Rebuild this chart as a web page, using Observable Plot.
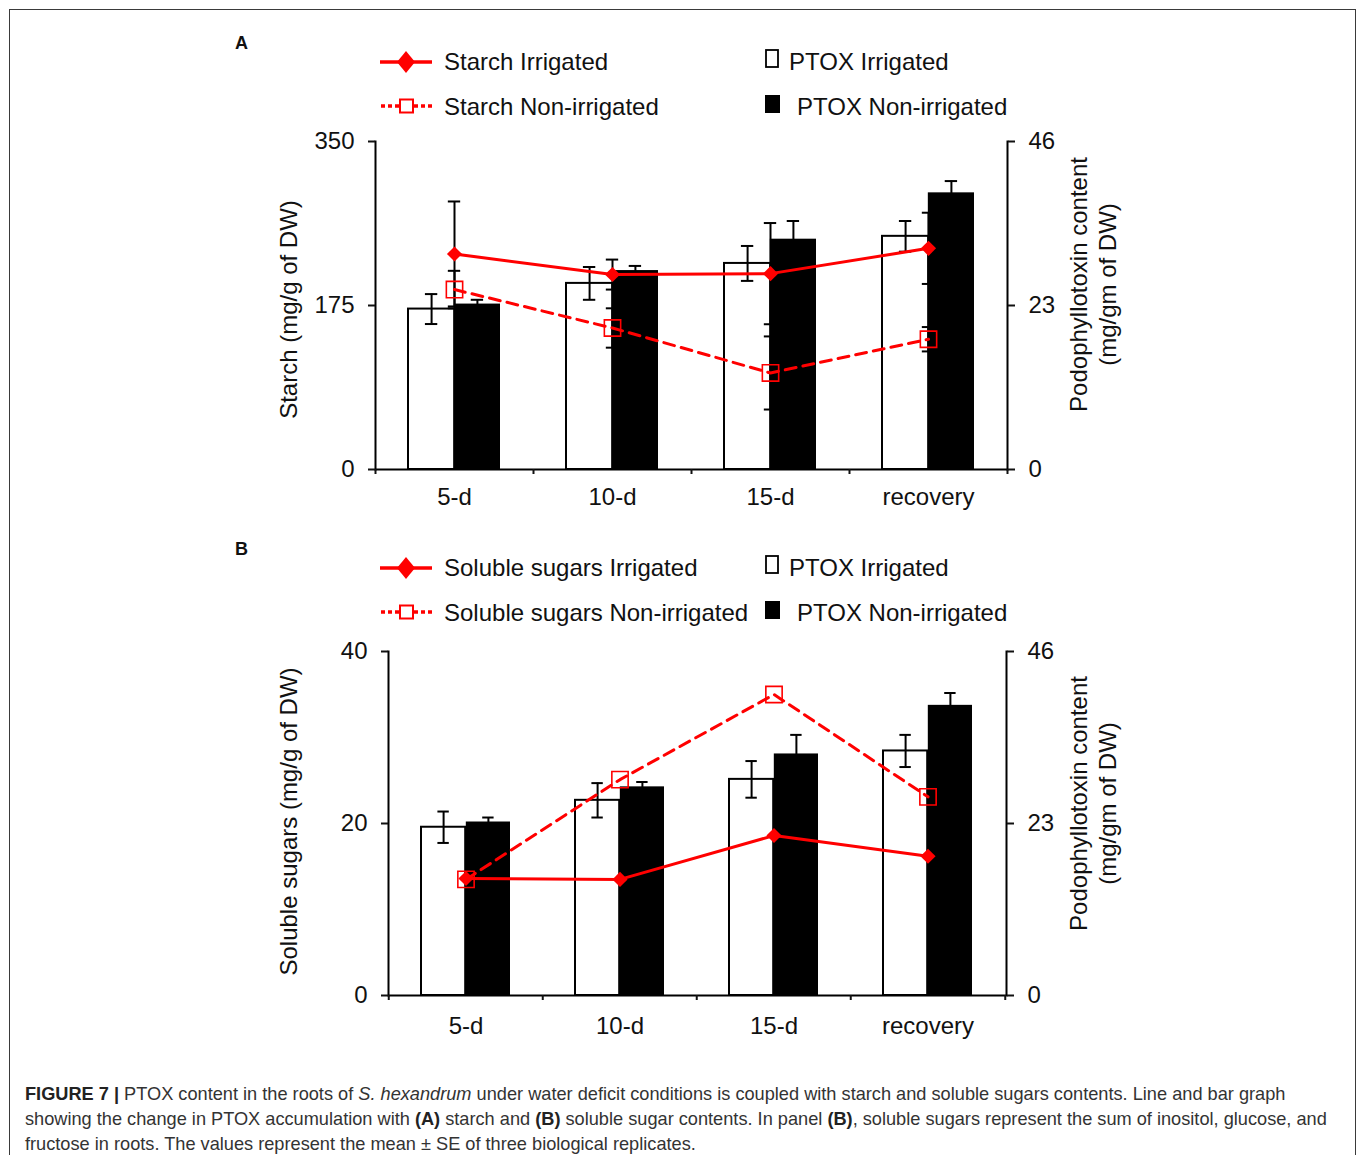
<!DOCTYPE html>
<html>
<head>
<meta charset="utf-8">
<script src="https://cdn.jsdelivr.net/npm/d3@7"></script>
<script src="https://cdn.jsdelivr.net/npm/@observablehq/plot@0.6"></script>
<style>
  body { margin: 0; background: #fff; }
  #fig { position: relative; width: 1358px; height: 1155px; overflow: hidden; font-family: "Liberation Sans", Arial, sans-serif; background: #fff; }
  #border { position: absolute; left: 9px; top: 9px; width: 1347px; height: 1200px; border: 1.5px solid #3a3a3a; box-sizing: border-box; }
  .panel { position: absolute; left: 0; }
  #overlay { position: absolute; left: 0; top: 0; }
  #caption { position: absolute; left: 25px; top: 1082px; font-size: 18.2px; line-height: 25px; color: #333; white-space: nowrap; }
  #caption b { color: #222; }
</style>
</head>
<body>
<div id="fig">
  <div id="border"></div>
  <div id="panelA" class="panel" style="top:120px"></div>
  <div id="panelB" class="panel" style="top:630px"></div>
  <svg id="overlay" width="1358" height="1155"></svg>
  <div id="caption"><b>FIGURE 7 |</b> PTOX content in the roots of <i>S. hexandrum</i> under water deficit conditions is coupled with starch and soluble sugars contents. Line and bar graph<br>showing the change in PTOX accumulation with <b>(A)</b> starch and <b>(B)</b> soluble sugar contents. In panel <b>(B)</b>, soluble sugars represent the sum of inositol, glucose, and<br>fructose in roots. The values represent the mean ± SE of three biological replicates.</div>
</div>
<script>
// ---------- data ----------
const categories = ["5-d", "10-d", "15-d", "recovery"];

// PTOX content (mg/gm of DW), right axis 0–46
const ptoxIrrigated = [22.5, 26.1, 28.9, 32.7];
const ptoxIrrigatedSE = [2.1, 2.3, 2.45, 2.15];
const ptoxNonIrrigated = [23.2, 27.9, 32.3, 38.8];
const ptoxNonIrrigatedSE = [0.6, 0.65, 2.55, 1.65];
const ptoxTicks = [0, 23, 46];

// Starch (mg/g of DW), panel A left axis
const starchIrrigated = [230, 208, 209, 236];
const starchIrrigatedSE = [56, 16, 54, 38];
const starchNonIrrigated = [192, 151, 103, 139];
const starchNonIrrigatedSE = [20, 21, 39, 13];
const starchTicks = [0, 175, 350];

// Soluble sugars (mg/g of DW), panel B left axis
const sugarsIrrigated = [13.6, 13.5, 18.6, 16.2];
const sugarsNonIrrigated = [13.5, 25.1, 35.0, 23.1];
const sugarTicks = [0, 20, 40];

const RED = "#ff0000";
const FONT = "'Liberation Sans', Arial, sans-serif";
const FS = 24;

function makePanel(o) {
  const n = categories.length;
  const innerW = o.width - o.marginLeft - o.marginRight;
  const step = innerW / n;
  const paddingInner = 0.42;
  const bw = step * (1 - paddingInner);
  const leftMax = o.leftTicks[o.leftTicks.length - 1];
  const ptoxMax = ptoxTicks[ptoxTicks.length - 1];
  const k = leftMax / ptoxMax;
  const cap = 6;

  const rows = categories.map((c, i) => ({
    cat: c,
    pI: ptoxIrrigated[i] * k,
    pIse: ptoxIrrigatedSE[i] * k,
    pN: ptoxNonIrrigated[i] * k,
    pNse: ptoxNonIrrigatedSE[i] * k,
    lI: o.lineIrr[i],
    lIse: o.lineIrrSE ? o.lineIrrSE[i] : 0,
    lN: o.lineNon[i],
    lNse: o.lineNonSE ? o.lineNonSE[i] : 0
  }));

  const errMarks = (yKey, seKey, dx, insL, insR) => [
    Plot.ruleX(rows, {x: "cat", y1: d => d[yKey] - d[seKey], y2: d => d[yKey] + d[seKey], dx, stroke: "black", strokeWidth: 2}),
    Plot.tickY(rows, {x: "cat", y: d => d[yKey] + d[seKey], insetLeft: insL, insetRight: insR, stroke: "black", strokeWidth: 2}),
    Plot.tickY(rows, {x: "cat", y: d => d[yKey] - d[seKey], insetLeft: insL, insetRight: insR, stroke: "black", strokeWidth: 2})
  ];

  const marks = [
    Plot.barY(rows, {x: "cat", y: "pI", fill: "white", stroke: "black", strokeWidth: 2, insetRight: bw / 2}),
    Plot.barY(rows, {x: "cat", y: "pN", fill: "black", insetLeft: bw / 2}),
    ...errMarks("pI", "pIse", -bw / 4, bw / 4 - cap, 3 * bw / 4 - cap),
    ...errMarks("pN", "pNse", bw / 4, 3 * bw / 4 - cap, bw / 4 - cap),
  ];
  if (o.lineIrrSE) marks.push(...errMarks("lI", "lIse", 0, bw / 2 - cap, bw / 2 - cap));
  if (o.lineNonSE) marks.push(...errMarks("lN", "lNse", 0, bw / 2 - cap, bw / 2 - cap));

  marks.push(
    Plot.lineY(rows, {x: "cat", y: "lN", stroke: RED, strokeWidth: 3, strokeDasharray: "11,7"}),
    Plot.dot(rows, {x: "cat", y: "lN", symbol: "square", r: 9.2, stroke: RED, strokeWidth: 1.6, fill: "none"}),
    Plot.lineY(rows, {x: "cat", y: "lI", stroke: RED, strokeWidth: 3}),
    Plot.dot(rows, {x: "cat", y: "lI", symbol: "diamond2", r: 6.8, fill: RED, stroke: "none"}),
    Plot.ruleY([0], {stroke: "black", strokeWidth: 2}),
    Plot.frame({anchor: "left", stroke: "black", strokeWidth: 2}),
    Plot.frame({anchor: "right", stroke: "black", strokeWidth: 2}),
    Plot.axisY({ticks: o.leftTicks, tickSize: 7, tickPadding: 14, strokeWidth: 2, label: null, tickFormat: d => d}),
    Plot.axisY({anchor: "right", ticks: o.leftTicks, tickSize: 7, tickPadding: 14, strokeWidth: 2, label: null,
                tickFormat: d => Math.round(d / k)}),
    Plot.axisX({tickSize: 5, strokeWidth: 2, tickFormat: () => "", dx: -step / 2, label: null}),
    Plot.axisX({ticks: [categories[n - 1]], tickSize: 5, strokeWidth: 2, tickFormat: () => "", dx: step / 2, label: null}),
    Plot.axisX({tickSize: 0, tickPadding: o.labelPad, label: null}),
    Plot.text([o.leftTitle], {text: d => d, frameAnchor: "left", textAnchor: "middle", dx: o.leftTitleDx, dy: o.leftTitleDy, rotate: -90, fontSize: FS}),
    Plot.text(["Podophyllotoxin content\n(mg/gm of DW)"], {text: d => d, frameAnchor: "right", textAnchor: "middle", lineAnchor: "middle", dx: o.rightTitleDx, dy: o.rightTitleDy, rotate: -90, fontSize: FS, lineHeight: 1.17})
  );

  return Plot.plot({
    width: o.width,
    height: o.height,
    marginLeft: o.marginLeft,
    marginRight: o.marginRight,
    marginTop: o.marginTop,
    marginBottom: o.marginBottom,
    style: {fontFamily: FONT, fontSize: FS + "px", color: "#111", background: "transparent", overflow: "visible"},
    x: {type: "band", domain: categories, paddingInner, paddingOuter: paddingInner / 2},
    y: {domain: [0, leftMax]},
    marks
  });
}

const svgA = makePanel({
  width: 1358, height: 409, marginLeft: 375, marginRight: 351, marginTop: 21, marginBottom: 60,
  leftTicks: starchTicks,
  lineIrr: starchIrrigated, lineIrrSE: starchIrrigatedSE,
  lineNon: starchNonIrrigated, lineNonSE: starchNonIrrigatedSE,
  leftTitle: "Starch (mg/g of DW)", leftTitleDx: -86, leftTitleDy: 4,
  rightTitleDx: 85, rightTitleDy: -21, labelPad: 18.5
});
document.getElementById("panelA").appendChild(svgA);

const svgB = makePanel({
  width: 1358, height: 425, marginLeft: 388, marginRight: 352, marginTop: 21, marginBottom: 60,
  leftTicks: sugarTicks,
  lineIrr: sugarsIrrigated, lineIrrSE: null,
  lineNon: sugarsNonIrrigated, lineNonSE: null,
  leftTitle: "Soluble sugars (mg/g of DW)", leftTitleDx: -99, leftTitleDy: -2,
  rightTitleDx: 86, rightTitleDy: -20, labelPad: 21.5
});
document.getElementById("panelB").appendChild(svgB);

// ---------- legends & panel labels ----------
const ov = d3.select("#overlay").style("font-family", FONT);
function legend(r1, label, lineName) {
  const g = ov.append("g");
  g.append("text").attr("x", 235).attr("y", r1 - 12).attr("font-size", 18).attr("font-weight", "bold").attr("fill", "#111").text(label);
  const r2 = r1 + 45;
  g.append("line").attr("x1", 380).attr("x2", 432).attr("y1", r1 + 1).attr("y2", r1 + 1).attr("stroke", RED).attr("stroke-width", 3.5);
  g.append("path").attr("d", `M406,${r1 - 10} L415,${r1 + 1} L406,${r1 + 12} L397,${r1 + 1} Z`).attr("fill", RED);
  g.append("line").attr("x1", 381).attr("x2", 399).attr("y1", r2).attr("y2", r2).attr("stroke", RED).attr("stroke-width", 3.5).attr("stroke-dasharray", "4,3");
  g.append("line").attr("x1", 414).attr("x2", 433).attr("y1", r2).attr("y2", r2).attr("stroke", RED).attr("stroke-width", 3.5).attr("stroke-dasharray", "4,3");
  g.append("rect").attr("x", 400).attr("y", r2 - 6.5).attr("width", 13).attr("height", 13).attr("fill", "white").attr("stroke", RED).attr("stroke-width", 2);
  g.append("text").attr("x", 444).attr("y", r1 + 9).attr("font-size", FS).attr("fill", "#111").text(lineName + " Irrigated");
  g.append("text").attr("x", 444).attr("y", r2 + 9).attr("font-size", FS).attr("fill", "#111").text(lineName + " Non-irrigated");
  g.append("rect").attr("x", 766).attr("y", r1 - 11).attr("width", 12).attr("height", 17).attr("fill", "white").attr("stroke", "black").attr("stroke-width", 1.8);
  g.append("text").attr("x", 789).attr("y", r1 + 9).attr("font-size", FS).attr("fill", "#111").text("PTOX Irrigated");
  g.append("rect").attr("x", 765).attr("y", r2 - 11).attr("width", 15).attr("height", 18).attr("fill", "black");
  g.append("text").attr("x", 797).attr("y", r2 + 9).attr("font-size", FS).attr("fill", "#111").text("PTOX Non-irrigated");
}
legend(61, "A", "Starch");
legend(567, "B", "Soluble sugars");
</script>
</body>
</html>
